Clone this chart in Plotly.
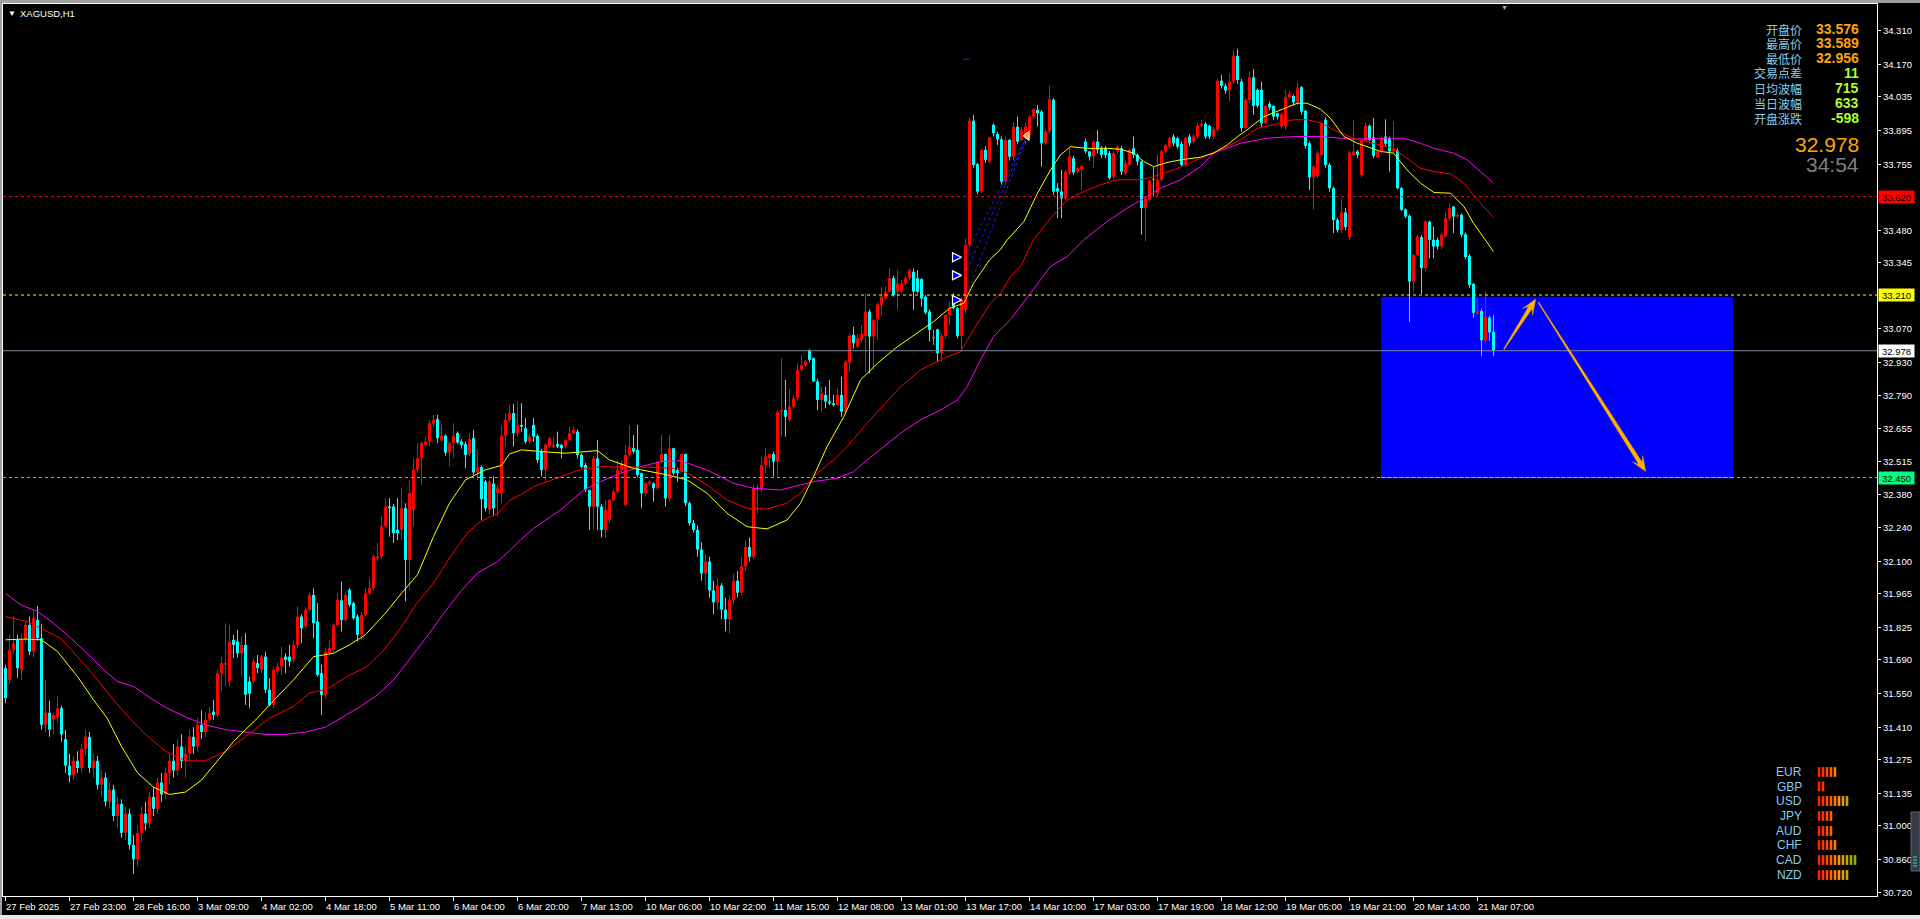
import math
import plotly.graph_objects as go

# ---------------- data ----------------
opens = [
 31.656, 31.607, 31.732, 31.774, 31.649, 31.774, 31.836, 31.725, 31.857, 31.781,
 31.420, 31.470, 31.441, 31.450, 31.489, 31.36, 31.25, 31.21, 31.27, 31.24,
 31.32, 31.37, 31.24, 31.27, 31.17, 31.20, 31.10, 31.15, 31.04, 31.09,
 30.97, 31.05, 30.92, 30.86, 30.97, 31.05, 31.01, 31.12, 31.07, 31.18,
 31.13, 31.22, 31.27, 31.23, 31.33, 31.27, 31.30, 31.37, 31.33, 31.42,
 31.39, 31.441, 31.475, 31.461, 31.635, 31.670, 31.600, 31.774, 31.767, 31.718,
 31.753, 31.600, 31.600, 31.677, 31.649, 31.704, 31.566, 31.503, 31.642, 31.663,
 31.704, 31.704, 31.691, 31.753, 31.871, 31.829, 31.899, 31.961, 31.850, 31.635,
 31.545, 31.718, 31.732, 31.836, 31.938, 31.857, 31.982, 31.927, 31.871, 31.795,
 31.878, 31.968, 31.989, 32.114, 32.121, 32.246, 32.329, 32.329, 32.232, 32.232,
 32.322, 32.107, 32.315, 32.482, 32.530, 32.586, 32.600, 32.674, 32.693, 32.604,
 32.624, 32.554, 32.593, 32.635, 32.600, 32.589, 32.549, 32.614, 32.471, 32.493,
 32.433, 32.315, 32.424, 32.385, 32.385, 32.624, 32.690, 32.718, 32.635, 32.669,
 32.655, 32.599, 32.669, 32.623, 32.558, 32.481, 32.579, 32.579, 32.590, 32.586,
 32.579, 32.606, 32.634, 32.641, 32.544, 32.502, 32.398, 32.329, 32.530, 32.329,
 32.232, 32.273, 32.356, 32.391, 32.481, 32.336, 32.544, 32.572, 32.565, 32.468,
 32.384, 32.426, 32.426, 32.405, 32.516, 32.548, 32.363, 32.572, 32.481, 32.474,
 32.548, 32.343, 32.260, 32.232, 32.150, 32.050, 32.100, 31.980, 31.930, 32.000,
 31.900, 31.860, 31.940, 32.020, 31.970, 32.080, 32.160, 32.120, 32.400, 32.405,
 32.502, 32.530, 32.548, 32.516, 32.724, 32.731, 32.690, 32.745, 32.780, 32.898,
 32.919, 32.981, 32.947, 32.850, 32.773, 32.794, 32.766, 32.759, 32.752, 32.794,
 32.724, 32.929, 33.044, 32.995, 33.023, 33.040, 33.141, 33.037, 33.109, 33.169,
 33.196, 33.224, 33.280, 33.224, 33.224, 33.259, 33.280, 33.307, 33.280, 33.276,
 33.203, 33.141, 33.030, 33.067, 32.967, 33.040, 33.127, 33.176, 33.155, 33.040,
 33.148, 33.419, 33.936, 33.755, 33.641, 33.814, 33.766, 33.919, 33.881, 33.859,
 33.682, 33.856, 33.786, 33.911, 33.856, 33.863, 33.877, 33.953, 33.981, 33.974,
 33.842, 33.891, 34.023, 33.655, 33.641, 33.613, 33.720, 33.780, 33.724, 33.731,
 33.849, 33.808, 33.787, 33.849, 33.821, 33.821, 33.801, 33.703, 33.808, 33.821,
 33.717, 33.752, 33.821, 33.794, 33.766, 33.572, 33.606, 33.690, 33.634, 33.690,
 33.808, 33.828, 33.870, 33.863, 33.840, 33.752, 33.870, 33.849, 33.870, 33.915,
 33.923, 33.915, 33.870, 33.898, 34.103, 34.081, 34.062, 34.099, 34.206, 34.099,
 33.905, 34.023, 34.117, 34.064, 34.064, 33.926, 34.006, 33.998, 33.967, 33.912,
 33.912, 34.034, 34.039, 34.012, 34.076, 33.978, 33.842, 33.701, 33.706, 33.794,
 33.940, 33.752, 33.655, 33.523, 33.481, 33.554, 33.451, 33.794, 33.808, 33.710,
 33.853, 33.915, 33.867, 33.784, 33.808, 33.870, 33.863, 33.808, 33.812, 33.655,
 33.567, 33.540, 33.266, 33.377, 33.451, 33.322, 33.516, 33.440, 33.440, 33.412,
 33.454, 33.530, 33.579, 33.537, 33.544, 33.463, 33.373, 33.256, 33.131, 33.144,
 33.020, 33.116, 33.057,
]
highs = [
 31.670, 31.795, 31.871, 31.795, 31.800, 31.850, 31.871, 31.899, 31.915, 31.840,
 31.607, 31.520, 31.470, 31.538, 31.500, 31.40, 31.30, 31.29, 31.31, 31.34,
 31.40, 31.39, 31.30, 31.29, 31.23, 31.22, 31.18, 31.17, 31.12, 31.11,
 31.08, 31.07, 30.96, 31.00, 31.08, 31.10, 31.14, 31.16, 31.20, 31.22,
 31.24, 31.30, 31.34, 31.36, 31.38, 31.33, 31.40, 31.41, 31.45, 31.48,
 31.47, 31.496, 31.524, 31.650, 31.704, 31.843, 31.836, 31.795, 31.815, 31.788,
 31.802, 31.621, 31.698, 31.711, 31.711, 31.725, 31.614, 31.660, 31.680, 31.746,
 31.718, 31.753, 31.770, 31.913, 31.880, 31.910, 31.970, 31.989, 31.927, 31.670,
 31.740, 31.774, 31.843, 31.968, 32.017, 31.975, 31.990, 31.934, 31.880, 31.890,
 31.989, 32.031, 32.130, 32.177, 32.288, 32.364, 32.364, 32.340, 32.364, 32.406,
 32.343, 32.440, 32.530, 32.593, 32.600, 32.621, 32.690, 32.711, 32.711, 32.676,
 32.630, 32.600, 32.676, 32.642, 32.610, 32.600, 32.635, 32.648, 32.565, 32.500,
 32.440, 32.440, 32.454, 32.420, 32.669, 32.718, 32.753, 32.757, 32.767, 32.759,
 32.697, 32.630, 32.697, 32.630, 32.570, 32.590, 32.620, 32.620, 32.641, 32.590,
 32.610, 32.662, 32.662, 32.650, 32.550, 32.510, 32.400, 32.540, 32.606, 32.340,
 32.356, 32.360, 32.400, 32.523, 32.520, 32.586, 32.669, 32.627, 32.669, 32.470,
 32.430, 32.440, 32.430, 32.520, 32.627, 32.550, 32.627, 32.572, 32.490, 32.550,
 32.550, 32.350, 32.273, 32.250, 32.180, 32.130, 32.120, 32.020, 32.030, 32.010,
 31.950, 31.960, 32.050, 32.060, 32.120, 32.190, 32.200, 32.419, 32.420, 32.537,
 32.572, 32.550, 32.558, 32.730, 32.947, 32.856, 32.821, 32.790, 32.926, 32.960,
 32.940, 32.984, 32.950, 32.860, 32.828, 32.828, 32.856, 32.794, 32.821, 32.870,
 32.940, 33.050, 33.078, 33.050, 33.085, 33.217, 33.150, 33.110, 33.180, 33.245,
 33.245, 33.321, 33.290, 33.314, 33.273, 33.290, 33.321, 33.321, 33.314, 33.280,
 33.210, 33.150, 33.065, 33.070, 33.050, 33.130, 33.183, 33.217, 33.160, 33.200,
 33.446, 33.950, 33.960, 33.760, 33.820, 33.830, 33.870, 33.925, 33.890, 33.870,
 33.870, 33.860, 33.930, 33.953, 33.910, 33.930, 33.960, 33.990, 34.002, 33.980,
 33.900, 34.081, 34.030, 33.676, 33.731, 33.730, 33.821, 33.790, 33.745, 33.750,
 33.863, 33.810, 33.856, 33.898, 33.830, 33.830, 33.810, 33.810, 33.835, 33.830,
 33.770, 33.820, 33.870, 33.800, 33.770, 33.620, 33.690, 33.745, 33.794, 33.815,
 33.840, 33.870, 33.880, 33.870, 33.850, 33.870, 33.880, 33.880, 33.930, 33.940,
 33.930, 33.920, 33.910, 34.110, 34.127, 34.090, 34.134, 34.231, 34.236, 34.110,
 34.030, 34.141, 34.151, 34.070, 34.099, 34.000, 34.016, 34.000, 33.970, 33.970,
 34.064, 34.060, 34.045, 34.099, 34.080, 33.980, 33.850, 33.750, 33.810, 33.930,
 33.950, 33.760, 33.660, 33.530, 33.613, 33.572, 33.810, 33.940, 33.815, 33.860,
 33.930, 33.920, 33.946, 33.810, 33.870, 33.942, 33.870, 33.933, 33.820, 33.660,
 33.570, 33.545, 33.380, 33.460, 33.460, 33.520, 33.520, 33.495, 33.450, 33.470,
 33.558, 33.592, 33.580, 33.550, 33.550, 33.470, 33.380, 33.260, 33.198, 33.153,
 33.224, 33.123, 33.127,
]
lows = [
 31.510, 31.590, 31.720, 31.615, 31.607, 31.760, 31.710, 31.700, 31.770, 31.400,
 31.390, 31.370, 31.380, 31.430, 31.350, 31.22, 31.18, 31.19, 31.22, 31.22,
 31.29, 31.22, 31.20, 31.15, 31.12, 31.08, 31.07, 31.02, 30.99, 30.95,
 30.94, 30.90, 30.80, 30.83, 30.93, 30.98, 30.99, 31.04, 31.05, 31.10,
 31.11, 31.17, 31.20, 31.21, 31.24, 31.20, 31.27, 31.30, 31.31, 31.36,
 31.37, 31.430, 31.441, 31.450, 31.559, 31.580, 31.580, 31.698, 31.700, 31.621,
 31.503, 31.489, 31.593, 31.635, 31.635, 31.552, 31.496, 31.490, 31.630, 31.628,
 31.635, 31.663, 31.680, 31.740, 31.760, 31.820, 31.890, 31.781, 31.620, 31.461,
 31.530, 31.710, 31.720, 31.830, 31.809, 31.850, 31.910, 31.857, 31.767, 31.774,
 31.870, 31.960, 31.980, 32.100, 32.110, 32.240, 32.204, 32.177, 32.190, 32.190,
 31.934, 31.982, 32.246, 32.470, 32.419, 32.580, 32.579, 32.660, 32.593, 32.600,
 32.540, 32.496, 32.530, 32.590, 32.570, 32.489, 32.540, 32.460, 32.440, 32.274,
 32.310, 32.295, 32.288, 32.288, 32.343, 32.579, 32.680, 32.579, 32.620, 32.641,
 32.590, 32.590, 32.599, 32.510, 32.454, 32.433, 32.570, 32.572, 32.572, 32.530,
 32.570, 32.600, 32.630, 32.530, 32.490, 32.390, 32.232, 32.232, 32.232, 32.200,
 32.200, 32.260, 32.350, 32.380, 32.470, 32.330, 32.540, 32.550, 32.450, 32.322,
 32.370, 32.420, 32.350, 32.400, 32.510, 32.329, 32.350, 32.460, 32.433, 32.470,
 32.330, 32.250, 32.220, 32.120, 32.020, 32.000, 31.950, 31.880, 31.900, 31.860,
 31.810, 31.800, 31.920, 31.950, 31.960, 32.060, 32.100, 32.110, 32.300, 32.390,
 32.468, 32.488, 32.454, 32.454, 32.620, 32.620, 32.683, 32.740, 32.770, 32.890,
 32.910, 32.930, 32.850, 32.731, 32.724, 32.738, 32.752, 32.745, 32.745, 32.703,
 32.720, 32.891, 32.988, 32.988, 33.010, 32.891, 32.884, 32.898, 33.023, 33.127,
 33.190, 33.220, 33.203, 33.148, 33.220, 33.250, 33.270, 33.148, 33.217, 33.162,
 33.130, 33.016, 33.002, 32.933, 32.933, 33.030, 33.085, 33.150, 33.030, 32.974,
 33.134, 33.410, 33.740, 33.630, 33.634, 33.760, 33.760, 33.870, 33.835, 33.670,
 33.670, 33.770, 33.770, 33.840, 33.850, 33.835, 33.860, 33.946, 33.912, 33.745,
 33.835, 33.880, 33.627, 33.530, 33.530, 33.606, 33.710, 33.710, 33.717, 33.648,
 33.800, 33.770, 33.738, 33.800, 33.780, 33.780, 33.690, 33.690, 33.800, 33.710,
 33.710, 33.745, 33.780, 33.750, 33.461, 33.433, 33.600, 33.620, 33.620, 33.680,
 33.800, 33.820, 33.830, 33.820, 33.745, 33.745, 33.830, 33.840, 33.860, 33.910,
 33.860, 33.860, 33.860, 33.890, 34.070, 34.050, 34.016, 34.090, 34.090, 33.890,
 33.900, 34.010, 33.960, 33.990, 33.910, 33.920, 33.980, 33.940, 33.940, 33.900,
 33.900, 34.030, 34.000, 34.000, 33.960, 33.820, 33.648, 33.565, 33.700, 33.790,
 33.740, 33.640, 33.468, 33.470, 33.468, 33.480, 33.440, 33.790, 33.780, 33.700,
 33.850, 33.850, 33.780, 33.780, 33.800, 33.830, 33.724, 33.800, 33.650, 33.560,
 33.530, 33.098, 33.224, 33.370, 33.215, 33.310, 33.363, 33.363, 33.400, 33.400,
 33.450, 33.520, 33.468, 33.530, 33.450, 33.360, 33.240, 33.116, 33.127, 32.956,
 33.015, 33.019, 32.956,
]
closes = [
 31.531, 31.732, 31.760, 31.656, 31.774, 31.836, 31.725, 31.864, 31.781, 31.420,
 31.470, 31.400, 31.461, 31.489, 31.380, 31.25, 31.21, 31.27, 31.24, 31.32,
 31.37, 31.24, 31.27, 31.17, 31.20, 31.10, 31.15, 31.04, 31.09, 30.97,
 31.05, 30.92, 30.86, 30.97, 31.05, 31.01, 31.12, 31.07, 31.18, 31.13,
 31.22, 31.27, 31.23, 31.33, 31.27, 31.30, 31.37, 31.33, 31.42, 31.39,
 31.44, 31.468, 31.461, 31.635, 31.677, 31.677, 31.767, 31.753, 31.718, 31.753,
 31.545, 31.550, 31.684, 31.656, 31.704, 31.566, 31.503, 31.649, 31.663, 31.698,
 31.691, 31.684, 31.753, 31.871, 31.822, 31.899, 31.961, 31.843, 31.628, 31.545,
 31.725, 31.739, 31.836, 31.940, 31.857, 31.961, 31.920, 31.864, 31.795, 31.878,
 31.968, 31.989, 32.121, 32.121, 32.246, 32.329, 32.322, 32.218, 32.218, 32.322,
 32.107, 32.385, 32.482, 32.530, 32.593, 32.600, 32.676, 32.690, 32.614, 32.624,
 32.554, 32.593, 32.624, 32.596, 32.586, 32.544, 32.610, 32.471, 32.493, 32.360,
 32.322, 32.433, 32.322, 32.406, 32.624, 32.690, 32.718, 32.635, 32.669, 32.662,
 32.599, 32.620, 32.620, 32.523, 32.481, 32.586, 32.613, 32.586, 32.579, 32.572,
 32.606, 32.634, 32.648, 32.544, 32.495, 32.398, 32.329, 32.530, 32.329, 32.232,
 32.315, 32.356, 32.391, 32.481, 32.509, 32.544, 32.579, 32.558, 32.461, 32.384,
 32.426, 32.433, 32.405, 32.516, 32.548, 32.363, 32.572, 32.468, 32.468, 32.548,
 32.343, 32.260, 32.232, 32.150, 32.050, 32.100, 31.980, 31.930, 32.000, 31.900,
 31.860, 31.940, 32.020, 31.970, 32.080, 32.160, 32.120, 32.405, 32.410, 32.502,
 32.537, 32.548, 32.516, 32.724, 32.731, 32.703, 32.745, 32.780, 32.898, 32.919,
 32.933, 32.940, 32.850, 32.773, 32.801, 32.766, 32.759, 32.752, 32.794, 32.724,
 32.933, 33.040, 33.009, 33.030, 33.048, 33.141, 33.037, 33.106, 33.171, 33.203,
 33.224, 33.280, 33.210, 33.259, 33.259, 33.280, 33.312, 33.224, 33.224, 33.196,
 33.137, 33.065, 33.030, 32.967, 33.040, 33.127, 33.155, 33.155, 33.040, 33.192,
 33.419, 33.936, 33.752, 33.641, 33.814, 33.773, 33.867, 33.884, 33.859, 33.682,
 33.856, 33.786, 33.911, 33.849, 33.898, 33.912, 33.953, 33.984, 33.967, 33.842,
 33.891, 34.026, 33.641, 33.641, 33.613, 33.724, 33.787, 33.720, 33.738, 33.748,
 33.808, 33.787, 33.849, 33.815, 33.794, 33.794, 33.697, 33.801, 33.828, 33.724,
 33.759, 33.815, 33.794, 33.766, 33.572, 33.613, 33.687, 33.690, 33.690, 33.808,
 33.835, 33.863, 33.842, 33.828, 33.752, 33.863, 33.842, 33.870, 33.915, 33.923,
 33.870, 33.870, 33.901, 34.103, 34.081, 34.062, 34.099, 34.206, 34.106, 33.905,
 34.023, 34.117, 33.998, 33.998, 33.926, 33.998, 33.992, 33.953, 33.953, 33.964,
 34.034, 34.048, 34.012, 34.071, 33.974, 33.831, 33.701, 33.745, 33.801, 33.926,
 33.752, 33.655, 33.523, 33.481, 33.554, 33.493, 33.803, 33.808, 33.794, 33.853,
 33.915, 33.856, 33.790, 33.808, 33.863, 33.840, 33.808, 33.817, 33.655, 33.565,
 33.537, 33.266, 33.377, 33.454, 33.322, 33.516, 33.440, 33.412, 33.412, 33.461,
 33.530, 33.572, 33.537, 33.544, 33.461, 33.368, 33.252, 33.136, 33.144, 33.022,
 33.120, 33.054, 32.978,
]

time_tick_bars = [0, 16, 32, 48, 64, 80, 96, 112, 128, 144, 160, 176, 192, 208,
                  224, 240, 256, 272, 288, 304, 320, 336, 352, 368]
time_tick_labels = ["27 Feb 2025", "27 Feb 23:00", "28 Feb 16:00", "3 Mar 09:00",
                    "4 Mar 02:00", "4 Mar 18:00", "5 Mar 11:00", "6 Mar 04:00",
                    "6 Mar 20:00", "7 Mar 13:00", "10 Mar 06:00", "10 Mar 22:00",
                    "11 Mar 15:00", "12 Mar 08:00", "13 Mar 01:00", "13 Mar 17:00",
                    "14 Mar 10:00", "17 Mar 03:00", "17 Mar 19:00", "18 Mar 12:00",
                    "19 Mar 05:00", "19 Mar 21:00", "20 Mar 14:00", "21 Mar 07:00"]

price_ticks = [34.310, 34.170, 34.035, 33.895, 33.755, 33.480, 33.345, 33.070,
               32.930, 32.790, 32.655, 32.515, 32.380, 32.240, 32.100, 31.965,
               31.825, 31.690, 31.550, 31.410, 31.275, 31.135, 31.000, 30.860, 30.720]

ma_fast_bar = [0, 5, 9, 13, 18, 22, 25.4, 29, 33, 37, 41, 45, 49, 53, 57, 60, 63, 66,
               72, 77, 82, 86, 90, 95, 99, 103, 107, 111, 115, 120, 124, 126, 129, 134,
               140, 148, 151, 157, 165.4, 170.4, 175.4, 180.4, 185.4, 190.4, 195.4,
               198.75, 202, 205.4, 209.6, 213.75, 218, 223, 228, 232, 236, 239.6, 242,
               246, 248.75, 250.4, 254.6, 258, 261.25, 263.75, 266.25, 270.4, 275.4,
               278.75, 282, 284.6, 287, 290.4, 293.75, 298.75, 302, 305.4, 308, 310.4,
               314.6, 318.75, 323, 325.4, 328.75, 331.25, 334.6, 338, 340.4, 343.75,
               347, 350.4, 353.75, 357.1, 361.25, 364.6, 367, 369.6, 372]
ma_fast_val = [31.774, 31.777, 31.774, 31.725, 31.621, 31.524, 31.448, 31.33, 31.22,
               31.16, 31.13, 31.14, 31.19, 31.27, 31.35, 31.40, 31.448, 31.503, 31.607,
               31.704, 31.718, 31.753, 31.795, 31.885, 31.968, 32.045, 32.204, 32.343,
               32.440, 32.482, 32.500, 32.548, 32.565, 32.558, 32.551, 32.562, 32.523,
               32.488, 32.461, 32.440, 32.384, 32.301, 32.245, 32.236, 32.273, 32.343,
               32.454, 32.579, 32.704, 32.856, 32.926, 32.995, 33.051, 33.099, 33.155,
               33.176, 33.259, 33.356, 33.400, 33.439, 33.516, 33.634, 33.731, 33.794,
               33.828, 33.821, 33.821, 33.817, 33.801, 33.766, 33.745, 33.762, 33.773,
               33.784, 33.801, 33.835, 33.870, 33.898, 33.953, 33.981, 34.009, 34.009,
               33.984, 33.946, 33.870, 33.842, 33.828, 33.808, 33.801, 33.731, 33.676,
               33.637, 33.634, 33.579, 33.509, 33.447, 33.391]

ma_mid_bar = [0, 5.4, 9.6, 13.75, 18, 23, 27, 31, 35, 40, 45, 50, 55, 60, 66, 72, 76,
              80.4, 85.4, 90.4, 94.6, 98.75, 102.9, 107, 111.25, 115.4, 118.75, 123,
              126.25, 128.75, 132, 138.75, 143.75, 148.75, 153.75, 160.4, 167, 170.4,
              175.4, 180.4, 185.4, 190.4, 195.4, 198.75, 202, 207, 210.4, 215.4, 219.6,
              223.75, 228.75, 234.6, 238.75, 242, 246.25, 248.75, 251.25, 253.75, 257,
              261.25, 265.4, 269.6, 273.75, 277.9, 283.75, 287, 292, 297, 302, 305.4,
              308.75, 313, 317, 322, 325.4, 328.75, 332, 337, 342, 347, 350.4, 353.75,
              357.1, 361.25, 364.6, 368, 372]
ma_mid_val = [31.871, 31.850, 31.815, 31.781, 31.704, 31.607, 31.524, 31.448, 31.38,
              31.31, 31.27, 31.27, 31.31, 31.37, 31.448, 31.496, 31.552, 31.569, 31.621,
              31.663, 31.732, 31.822, 31.927, 32.010, 32.121, 32.218, 32.267, 32.300,
              32.357, 32.378, 32.412, 32.454, 32.484, 32.495, 32.495, 32.493, 32.488,
              32.470, 32.419, 32.356, 32.322, 32.319, 32.343, 32.384, 32.454, 32.523,
              32.579, 32.676, 32.752, 32.828, 32.898, 32.947, 32.974, 33.065, 33.176,
              33.218, 33.287, 33.328, 33.440, 33.530, 33.606, 33.641, 33.669, 33.690,
              33.690, 33.703, 33.731, 33.766, 33.803, 33.828, 33.856, 33.905, 33.919,
              33.940, 33.940, 33.928, 33.898, 33.863, 33.842, 33.821, 33.780, 33.738,
              33.724, 33.715, 33.676, 33.606, 33.534]

ma_slow_bar = [0, 3.75, 8, 12, 15.4, 20.4, 24.6, 28, 32, 36.25, 40.4, 45.4, 50, 55, 60,
               65, 70, 75, 80, 83.75, 88.75, 93, 97, 101.25, 105.4, 109.6, 113.75, 118,
               123, 126.25, 128.75, 132, 138.75, 144.6, 148.75, 153.75, 158.75, 163.75,
               168.75, 175.4, 182, 187, 193.75, 198.75, 202, 208, 212, 215.4, 219.6,
               223.75, 228.75, 233.75, 238, 240.4, 243.75, 247, 251.25, 253.75, 257,
               261.25, 265.4, 269.6, 275.4, 280.4, 284.6, 288.75, 293.75, 298.75, 302,
               305.4, 308.75, 315.4, 322, 328.75, 337, 343.75, 349.6, 353.75, 357.1,
               362, 365.4, 368.75, 372]
ma_slow_val = [31.968, 31.920, 31.892, 31.843, 31.795, 31.718, 31.649, 31.600, 31.580,
               31.531, 31.489, 31.450, 31.42, 31.40, 31.39, 31.38, 31.38, 31.39, 31.41,
               31.448, 31.496, 31.545, 31.607, 31.698, 31.788, 31.885, 31.975, 32.052,
               32.100, 32.149, 32.190, 32.238, 32.315, 32.398, 32.433, 32.468, 32.495,
               32.516, 32.520, 32.481, 32.426, 32.405, 32.398, 32.419, 32.433, 32.447,
               32.474, 32.523, 32.579, 32.634, 32.690, 32.731, 32.773, 32.828, 32.940,
               33.037, 33.107, 33.162, 33.232, 33.329, 33.370, 33.440, 33.516, 33.572,
               33.613, 33.655, 33.690, 33.745, 33.801, 33.821, 33.842, 33.863, 33.870,
               33.870, 33.859, 33.863, 33.863, 33.842, 33.821, 33.801, 33.773, 33.724,
               33.676]

level_red = 33.620
level_yellow = 33.210
level_green = 32.450
last_price = 32.978

zone_bars = [343.9, 431.9]
zone_prices = [32.447, 33.203]

arrow_up_bars = [374.6, 382.55]
arrow_up_prices = [32.984, 33.193]
arrow_down_bars = [383.2, 410.05]
arrow_down_prices = [33.180, 32.475]

trade_open_bar = 239.0
trade_open_prices = [33.367, 33.292, 33.189]
trade_close_bar = 255.4
trade_close_price = 33.873
tp_mark_bars = [239.3, 241.0]
tp_mark_price = 34.192

info_labels = ["开盘价", "最高价", "最低价", "交易点差", "日均波幅", "当日波幅", "开盘涨跌"]
info_values = ["33.576", "33.589", "32.956", "11", "715", "633", "-598"]
quote_price = "32.978"
countdown = "34:54"

currencies = ["EUR", "GBP", "USD", "JPY", "AUD", "CHF", "CAD", "NZD"]
strength = [5, 2, 8, 4, 4, 5, 10, 8]

# ---------------- layout constants ----------------
W, H = 1920, 919
PL, PR, PT, PB = 3, 1877, 4, 896
BAR_PX = 4.0
PX_PER_PRICE = 240.1
X0 = (PL - 5.5) / BAR_PX
X1 = X0 + (PR - PL) / BAR_PX
Y0 = 30.707
Y1 = Y0 + (PB - PT) / PX_PER_PRICE

C_UP = "#FF0000"
C_DN = "#00FFFF"
C_DOJI = "#00FF00"
FONT = "Liberation Sans, Arial, sans-serif"
CJK = "Noto Sans CJK SC, sans-serif"


def to_px(x, y):
    return PL + (x - X0) * BAR_PX, PB - (y - Y0) * PX_PER_PRICE


def from_px(px, py):
    return X0 + (px - PL) / BAR_PX, Y0 + (PB - py) / PX_PER_PRICE


def pxx(px):
    return (px - PL) / (PR - PL)


def pxy(py):
    return (PB - py) / (PB - PT)


fig = go.Figure()

# ---------------- candles ----------------
MINH = 1.0 / PX_PER_PRICE
groups = {"up": ([], C_UP), "dn": ([], C_DN), "doji": ([], C_DOJI)}
for i, (o, c) in enumerate(zip(opens, closes)):
    key = "up" if c > o else ("dn" if c < o else "doji")
    groups[key][0].append(i)

for key, (idx, col) in groups.items():
    wx, wy = [], []
    for i in idx:
        wx += [i, i, None]
        wy += [lows[i], highs[i], None]
    fig.add_trace(go.Scatter(x=wx, y=wy, mode="lines", line=dict(color=col, width=1),
                             hoverinfo="skip", showlegend=False))
    fig.add_trace(go.Bar(x=idx,
                         base=[min(opens[i], closes[i]) for i in idx],
                         y=[max(abs(closes[i] - opens[i]), MINH) for i in idx],
                         width=0.75, marker=dict(color=col, line=dict(width=0)),
                         hoverinfo="skip", showlegend=False))

# ---------------- moving averages ----------------
for bx, vals, col in [(ma_slow_bar, ma_slow_val, "#FF00FF"),
                      (ma_mid_bar, ma_mid_val, "#FF0000"),
                      (ma_fast_bar, ma_fast_val, "#FFFF00")]:
    fig.add_trace(go.Scatter(x=bx, y=vals, mode="lines", line=dict(color=col, width=1),
                             hoverinfo="skip", showlegend=False))

# ---------------- trade marks ----------------
for p in trade_open_prices:
    fig.add_trace(go.Scatter(x=[trade_open_bar + 0.8, trade_close_bar], y=[p, trade_close_price],
                             mode="lines", line=dict(color="#2020FF", width=1, dash="dot"),
                             hoverinfo="skip", showlegend=False))
fig.add_trace(go.Scatter(x=[trade_open_bar] * len(trade_open_prices), y=trade_open_prices,
                         mode="markers",
                         marker=dict(symbol="arrow-right", size=9, color="#0000FF",
                                     line=dict(color="#FFFFFF", width=1.2)),
                         hoverinfo="skip", showlegend=False))
fig.add_trace(go.Scatter(x=[trade_close_bar], y=[trade_close_price], mode="markers",
                         marker=dict(symbol="triangle-left", size=8, color="#FFA500",
                                     line=dict(color="#FFFFFF", width=1)),
                         hoverinfo="skip", showlegend=False))
fig.add_trace(go.Scatter(x=tp_mark_bars, y=[tp_mark_price] * 2, mode="lines",
                         line=dict(color="#2020FF", width=1), hoverinfo="skip", showlegend=False))

# ---------------- currency strength panel (pixel axes) ----------------
panel_colors = ["#FF2000", "#FF3400", "#FF4C00", "#FF6400", "#FF7E00", "#FF9600",
                "#E0A000", "#C4A800", "#A0B000", "#80B800"]
rows_y = [772, 786.5, 801, 816, 831, 845, 860, 875]
cx, cy, cc = [], [], []
for r, n in enumerate(strength):
    for k in range(n):
        cx.append(1819 + 4 * k)
        cy.append(rows_y[r])
        cc.append(panel_colors[k])
fig.add_trace(go.Scatter(x=cx, y=cy, mode="markers", xaxis="x2", yaxis="y2",
                         marker=dict(symbol="line-ns", size=7, line=dict(color=cc, width=2.6)),
                         hoverinfo="skip", showlegend=False))

# ---------------- shapes ----------------
shapes = []
shapes.append(dict(type="rect", xref="x", yref="y", x0=zone_bars[0], x1=zone_bars[1],
                   y0=zone_prices[0], y1=zone_prices[1], fillcolor="#0000FF",
                   line=dict(width=0), layer="below"))
for lvl, col in [(level_red, "#FF0000"), (level_yellow, "#FFFF00"), (level_green, "#00FF7F")]:
    shapes.append(dict(type="line", xref="paper", yref="y", x0=0, x1=1, y0=lvl, y1=lvl,
                       line=dict(color=col, width=1, dash="3px,3px"), layer="above"))
shapes.append(dict(type="line", xref="x", yref="y", x0=zone_bars[0], x1=zone_bars[1],
                   y0=level_green, y1=level_green,
                   line=dict(color="#00FFFF", width=1, dash="3px,3px"), layer="above"))
shapes.append(dict(type="line", xref="paper", yref="y", x0=0, x1=1, y0=last_price, y1=last_price,
                   line=dict(color="#7A8696", width=1), layer="above"))


def arrow_path(xs, ys, w0=0.8, w1=4.0, head_len=15.0, head_w=12.0, notch=10.0):
    sx, sy = to_px(xs[0], ys[0])
    ex, ey = to_px(xs[1], ys[1])
    dx, dy = ex - sx, ey - sy
    L = math.hypot(dx, dy)
    ux, uy = dx / L, dy / L
    nx, ny = -uy, ux
    bx, by = ex - ux * notch, ey - uy * notch
    hx, hy = ex - ux * head_len, ey - uy * head_len
    pts = [(sx + nx * w0 / 2, sy + ny * w0 / 2), (bx + nx * w1 / 2, by + ny * w1 / 2),
           (hx + nx * head_w / 2, hy + ny * head_w / 2), (ex, ey),
           (hx - nx * head_w / 2, hy - ny * head_w / 2), (bx - nx * w1 / 2, by - ny * w1 / 2),
           (sx - nx * w0 / 2, sy - ny * w0 / 2)]
    d = []
    for j, (px, py) in enumerate(pts):
        X, Y = from_px(px, py)
        d.append(("M" if j == 0 else "L") + f"{X:.4f},{Y:.5f}")
    return " ".join(d) + " Z"


for bx, py in [(arrow_up_bars, arrow_up_prices), (arrow_down_bars, arrow_down_prices)]:
    shapes.append(dict(type="path", xref="x", yref="y", path=arrow_path(bx, py),
                       fillcolor="#FFB300", line=dict(color="#E89A00", width=0.5), layer="above"))

# window frame
shapes += [
    dict(type="rect", xref="paper", yref="paper", x0=pxx(0), x1=pxx(W), y0=pxy(3), y1=pxy(0),
         fillcolor="#A0A0A0", line=dict(width=0), layer="above"),
    dict(type="rect", xref="paper", yref="paper", x0=pxx(0), x1=pxx(2), y0=pxy(H), y1=pxy(0),
         fillcolor="#A0A0A0", line=dict(width=0), layer="above"),
    dict(type="rect", xref="paper", yref="paper", x0=pxx(0), x1=pxx(W), y0=pxy(H), y1=pxy(915),
         fillcolor="#E8E8E8", line=dict(width=0), layer="above"),
    dict(type="rect", xref="paper", yref="paper", x0=pxx(1911), x1=pxx(1920), y0=pxy(871), y1=pxy(812),
         fillcolor="#343A46", line=dict(color="#5A6272", width=1), layer="above"),
]
for gy in [857, 860, 863, 866]:
    shapes.append(dict(type="line", xref="paper", yref="paper", x0=pxx(1913), x1=pxx(1917),
                       y0=pxy(gy), y1=pxy(gy), line=dict(color="#40D0A0", width=1), layer="above"))

# ---------------- annotations ----------------
ann = []
for b, t in zip(time_tick_bars, time_tick_labels):
    ann.append(dict(x=b, y=0, xref="x", yref="paper", text=t, showarrow=False,
                    xanchor="left", yanchor="top", xshift=-2, yshift=-3,
                    font=dict(family=FONT, size=9.5, color="#FFFFFF")))

for lvl, txt, bg in [(level_red, "33.620", "#FF0000"), (level_yellow, "33.210", "#FFFF00"),
                     (last_price, "32.978", "#FFFFFF"), (level_green, "32.450", "#00FF7F")]:
    ann.append(dict(x=1, y=lvl, xref="paper", yref="y", text=txt, showarrow=False,
                    xanchor="left", yanchor="middle", xshift=1, bgcolor=bg, borderpad=1,
                    width=33, height=10, align="center",
                    font=dict(family=FONT, size=9.5, color="#000000")))

info_rows = [29, 43.3, 58.3, 72.7, 88.3, 103.3, 118.3]
val_colors = ["#FFA500"] * 3 + ["#ADFF2F"] * 4
for yv, lab, val, vc in zip(info_rows, info_labels, info_values, val_colors):
    ann.append(dict(x=1804, y=yv, xref="x2", yref="y2", text=lab, showarrow=False,
                    xanchor="right", yanchor="middle",
                    font=dict(family=CJK, size=12, color="#87CEEB")))
    ann.append(dict(x=1861, y=yv, xref="x2", yref="y2", text=f"<b>{val}</b>", showarrow=False,
                    xanchor="right", yanchor="middle",
                    font=dict(family=FONT, size=14, color=vc)))
ann.append(dict(x=1861, y=144, xref="x2", yref="y2", text=quote_price, showarrow=False,
                xanchor="right", yanchor="middle", font=dict(family=FONT, size=21, color="#FFA500")))
ann.append(dict(x=1861, y=164, xref="x2", yref="y2", text=countdown, showarrow=False,
                xanchor="right", yanchor="middle", font=dict(family=FONT, size=21, color="#808080")))

for yv, cur in zip(rows_y, currencies):
    ann.append(dict(x=1804, y=yv, xref="x2", yref="y2", text=cur, showarrow=False,
                    xanchor="right", yanchor="middle",
                    font=dict(family=FONT, size=12, color="#87CEEB")))

ann.append(dict(x=6, y=13, xref="x2", yref="y2", text="▼", showarrow=False,
                xanchor="left", yanchor="middle", font=dict(family=FONT, size=8, color="#FFFFFF")))
ann.append(dict(x=18, y=13, xref="x2", yref="y2", text="XAGUSD,H1", showarrow=False,
                xanchor="left", yanchor="middle", font=dict(family=FONT, size=9.5, color="#FFFFFF")))
ann.append(dict(x=1504, y=7, xref="x2", yref="y2", text="▼", showarrow=False,
                xanchor="center", yanchor="middle", font=dict(family=FONT, size=7, color="#B0B0B0")))

fig.update_layout(
    width=W, height=H,
    margin=dict(l=PL, r=W - PR, t=PT, b=H - PB, pad=0),
    paper_bgcolor="#000000", plot_bgcolor="#000000",
    barmode="overlay", showlegend=False, hovermode=False,
    xaxis=dict(range=[X0, X1], showgrid=False, zeroline=False, showline=True, mirror=True,
               linecolor="#FFFFFF", linewidth=1, ticks="outside", ticklen=4, tickcolor="#FFFFFF",
               tickvals=time_tick_bars, showticklabels=False, fixedrange=True),
    yaxis=dict(range=[Y0, Y1], side="right", showgrid=False, zeroline=False, showline=True,
               mirror=True, linecolor="#FFFFFF", linewidth=1, ticks="outside", ticklen=3,
               tickcolor="#FFFFFF", tickvals=price_ticks,
               ticktext=[f"{v:.3f}" for v in price_ticks],
               tickfont=dict(family=FONT, size=9.5, color="#FFFFFF"), fixedrange=True),
    xaxis2=dict(overlaying="x", range=[PL, PR], visible=False, fixedrange=True),
    yaxis2=dict(overlaying="y", range=[PB, PT], visible=False, fixedrange=True),
    shapes=shapes, annotations=ann,
)

fig.write_html("out.html", include_plotlyjs=True, full_html=True,
               config={"displayModeBar": False, "staticPlot": True},
               post_script="document.body.style.margin='0';document.body.style.overflow='hidden';")
